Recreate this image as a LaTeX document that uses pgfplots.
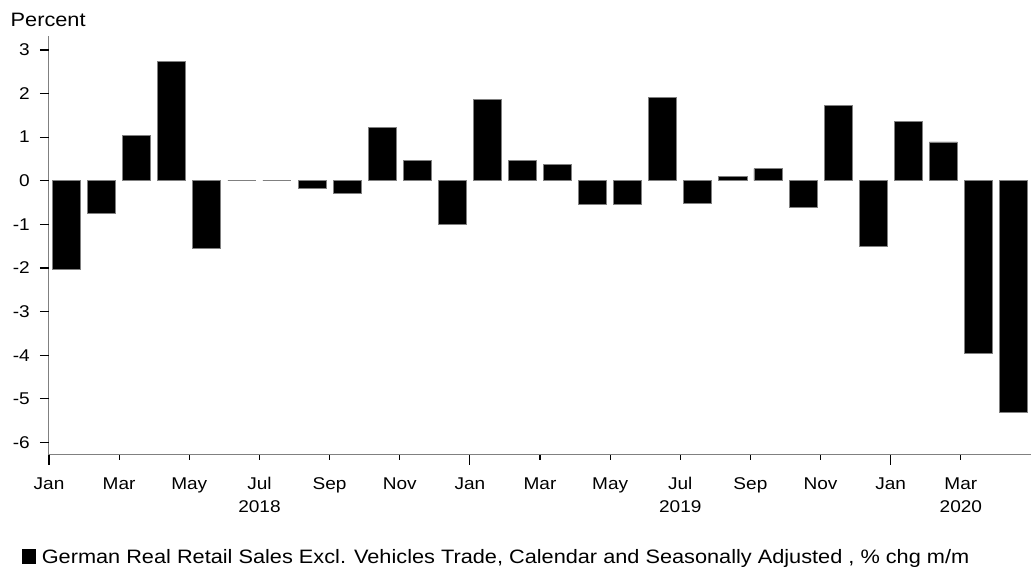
\documentclass[border=0pt]{standalone}
\usepackage{fontspec}
\setmainfont{Liberation Sans}[FakeStretch=1.12]
\usepackage{pgfplots}
\pgfplotsset{compat=1.18}
\newcommand\tickfont{\fontsize{17}{20}\selectfont}
\newcommand\bigfont{\fontsize{19.4}{23}\selectfont}
\definecolor{axgray}{RGB}{128,128,128}
\begin{document}
\begin{tikzpicture}
\begin{axis}[
  name=ax,
  scale only axis,
  width=982pt, height=419pt,
  xmin=0, xmax=28,
  ymin=-6.29, ymax=3.32,
  clip=false,
  axis x line=bottom, axis y line=left,
  axis line style={-, draw=axgray, line width=1pt},
  tick align=outside,
  tick style={black, line width=1.2pt},
  major tick length=5pt,
  ytick=\empty,
  extra y ticks={-6,-5,-4,-3,-2,-1,0,1,2,3},
  extra y tick labels={-6,-5,-4,-3,-2,-1,0,1,2,3},
  extra y tick style={major tick length=9pt},
  yticklabel style={font=\tickfont, anchor=east, inner sep=0pt, xshift=-10pt},
  xtick={0,2,4,6,8,10,12,14,16,18,20,22,24,26},
  xticklabels={Jan,Mar,May,Jul,Sep,Nov,Jan,Mar,May,Jul,Sep,Nov,Jan,Mar},
  extra x ticks={0,12,24},
  extra x tick labels={},
  extra x tick style={major tick length=10pt},
  xticklabel style={font=\tickfont, anchor=base, inner sep=0pt, yshift=-30pt},
  legend style={at={(-0.0275,-0.2434)}, anchor=west, draw=none, fill=none,
    inner sep=0pt, outer sep=0pt, column sep=5.5pt, font=\bigfont,
    nodes={inner sep=0pt}},
  legend cell align=left,
]
\addplot[ybar, bar width=0.8, bar shift=0pt, fill=black, draw=axgray, line width=0.8pt,
  legend image code/.code={\fill[black] (0pt,-6pt) rectangle (13.5pt,8pt);}]
  coordinates {
  (0.5,-2.03) (1.5,-0.74) (2.5,1.04) (3.5,2.73) (4.5,-1.55) (5.5,0) (6.5,0)
  (7.5,-0.18) (8.5,-0.28) (9.5,1.22) (10.5,0.47) (11.5,-1.00) (12.5,1.86)
  (13.5,0.46) (14.5,0.37) (15.5,-0.54) (16.5,-0.54) (17.5,1.92) (18.5,-0.53)
  (19.5,0.10) (20.5,0.28) (21.5,-0.62) (22.5,1.72) (23.5,-1.51) (24.5,1.36)
  (25.5,0.89) (26.5,-3.96) (27.5,-5.32)
  };
\addlegendentry{German Real Retail Sales Excl. Vehicles Trade, Calendar and Seasonally Adjusted , \% chg m/m}
\node[anchor=base west, font=\bigfont, inner sep=0pt, xshift=-38.5pt, yshift=9pt] at (rel axis cs:0,1) {Percent};
\node[anchor=base, font=\tickfont, inner sep=0pt, yshift=-58pt] at (axis cs:6,-6.29) {2018};
\node[anchor=base, font=\tickfont, inner sep=0pt, yshift=-58pt] at (axis cs:18,-6.29) {2019};
\node[anchor=base, font=\tickfont, inner sep=0pt, yshift=-58pt] at (axis cs:26,-6.29) {2020};
\end{axis}
\pgfresetboundingbox
\path[use as bounding box] (ax.south west) ++(-49pt,-112pt) rectangle ++(1031pt,567pt);
\end{tikzpicture}
\end{document}
